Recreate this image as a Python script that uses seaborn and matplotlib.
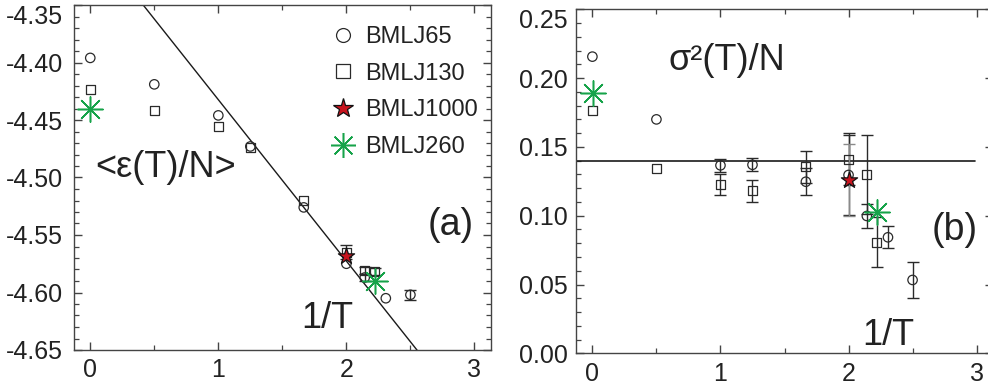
import numpy as np
import pandas as pd
import matplotlib
matplotlib.use("Agg")
import matplotlib.pyplot as plt
import seaborn as sns
from matplotlib.lines import Line2D
from matplotlib.ticker import MultipleLocator, FormatStrFormatter

sns.set_theme(style="ticks")
plt.rcParams["font.family"] = ["Liberation Sans", "DejaVu Sans"]
plt.rcParams["axes.unicode_minus"] = False

# ---------------- data: panel (a)  <e(T)/N> vs 1/T ----------------
a65_x = [0.0, 0.5, 1.0, 1.25, 1.667, 2.0, 2.143, 2.308, 2.5]
a65_y = [-4.396, -4.419, -4.446, -4.473, -4.526, -4.575, -4.587, -4.605, -4.602]
a65_err = [0, 0, 0, 0, 0, 0, 0.003, 0, 0.0045]

a130_x = [0.0, 0.5, 1.0, 1.25, 1.667, 2.0, 2.143, 2.222]
a130_y = [-4.4235, -4.442, -4.456, -4.474, -4.520, -4.565, -4.581, -4.582]
a130_err = [0, 0, 0, 0, 0, 0.006, 0.003, 0.003]

a1000_x = [2.0]
a1000_y = [-4.568]

a260_x = [0.0, 2.222]
a260_y = [-4.440, -4.590]

afit_x = [0.0, 3.0]
afit_y = [-4.292, -4.713]

# ---------------- data: panel (b)  sigma^2(T)/N vs 1/T ----------------
b65_x = [0.0, 0.5, 1.0, 1.25, 1.667, 2.0, 2.143, 2.308, 2.5]
b65_y = [0.2156, 0.170, 0.1366, 0.137, 0.1247, 0.1296, 0.0998, 0.0843, 0.0533]
b65_err = [0, 0, 0.0048, 0.0046, 0.0097, 0.029, 0.0085, 0.0081, 0.0132]

b130_x = [0.0, 0.5, 1.0, 1.25, 1.667, 2.0, 2.143, 2.222]
b130_y = [0.1768, 0.1344, 0.1225, 0.118, 0.1356, 0.141, 0.130, 0.0807]
b130_err = [0, 0, 0.0075, 0.0079, 0.0115, 0.019, 0.029, 0.018]

b1000_x = [2.0]
b1000_y = [0.126]
b1000_err = [0.026]

b260_x = [0.008, 2.222]
b260_y = [0.189, 0.103]

bline_x = [-0.2, 2.99]
bline_y = [0.140, 0.140]

legend_labels = ["BMLJ65", "BMLJ130", "BMLJ1000", "BMLJ260"]

# ---------------- styling ----------------
W, H = 988, 384
EDGE = "#2a2a2a"
GREEN = "#17a34a"
RED = "#c8141e"
AST = (8, 2, 0)

fig = plt.figure(figsize=(W / 100, H / 100), dpi=100)
fig.patch.set_facecolor("white")

ax_a = fig.add_axes([74 / W, 1 - 350 / H, (490.7 - 74) / W, (350 - 5) / H])
ax_b = fig.add_axes([576 / W, 1 - 353.3 / H, (993 - 576) / W, (353.3 - 9.3) / H])


def errbars(ax, x, y, e, color=EDGE):
    x = np.asarray(x); y = np.asarray(y); e = np.asarray(e)
    m = e > 0
    if m.any():
        ax.errorbar(x[m], y[m], yerr=e[m], fmt="none", ecolor=color,
                    elinewidth=1.0, capsize=4.5, capthick=1.0, zorder=2)


def open_pts(ax, x, y, marker, s):
    sns.scatterplot(x=x, y=y, ax=ax, marker=marker, s=s, color=EDGE,
                    facecolor="none", edgecolor=EDGE, linewidth=0.9, zorder=3)


def star_pts(ax, x, y, s):
    sns.scatterplot(x=x, y=y, ax=ax, marker="*", s=s, color=RED,
                    edgecolor="#111111", linewidth=0.9, zorder=4)


def ast_pts(ax, x, y, s):
    sns.scatterplot(x=x, y=y, ax=ax, marker=AST, s=s, color=GREEN,
                    edgecolor=GREEN, linewidth=1.1, zorder=5)


# ---- panel (a)
sns.lineplot(x=afit_x, y=afit_y, ax=ax_a, color="#1a1a1a", linewidth=1.0, zorder=1)
errbars(ax_a, a65_x, a65_y, a65_err)
errbars(ax_a, a130_x, a130_y, a130_err)
open_pts(ax_a, a65_x, a65_y, "o", 46)
open_pts(ax_a, a130_x, a130_y, "s", 42)
star_pts(ax_a, a1000_x, a1000_y, 150)
ast_pts(ax_a, a260_x, a260_y, 330)

ax_a.set_xlim(-0.127, 3.127)
ax_a.set_ylim(-4.65, -4.35)
ax_a.yaxis.set_major_locator(MultipleLocator(0.05))
ax_a.yaxis.set_minor_locator(MultipleLocator(0.01))
ax_a.yaxis.set_major_formatter(FormatStrFormatter("%.2f"))

# ---- panel (b)
sns.lineplot(x=bline_x, y=bline_y, ax=ax_b, color="#1a1a1a", linewidth=1.2, zorder=1)
errbars(ax_b, b65_x, b65_y, b65_err)
errbars(ax_b, b130_x, b130_y, b130_err)
errbars(ax_b, b1000_x, b1000_y, b1000_err, color="#8a8a8a")
open_pts(ax_b, b65_x, b65_y, "o", 46)
open_pts(ax_b, b130_x, b130_y, "s", 42)
star_pts(ax_b, b1000_x, b1000_y, 150)
ast_pts(ax_b, b260_x, b260_y, 330)

ax_b.set_xlim(-0.128, 3.128)
ax_b.set_ylim(0.0, 0.25)
ax_b.yaxis.set_major_locator(MultipleLocator(0.05))
ax_b.yaxis.set_minor_locator(MultipleLocator(0.01))
ax_b.yaxis.set_major_formatter(FormatStrFormatter("%.2f"))

for ax, ypad in ((ax_a, 8), (ax_b, 6)):
    ax.xaxis.set_major_locator(MultipleLocator(1))
    ax.xaxis.set_minor_locator(MultipleLocator(0.5))
    ax.set_xlabel("")
    ax.set_ylabel("")
    ax.set_facecolor("white")
    for sp in ax.spines.values():
        sp.set_visible(True)
        sp.set_color("#444444")
        sp.set_linewidth(1.0)
    ax.tick_params(which="both", direction="in", top=True, right=True,
                   colors="#444444", labelcolor="#222222")
    ax.tick_params(which="major", length=6, width=1.0, labelsize=18)
    ax.tick_params(which="minor", length=3.5, width=0.9)
    ax.tick_params(axis="y", pad=ypad)
    ax.tick_params(axis="x", pad=6)
    if ax.get_legend() is not None:
        ax.get_legend().remove()

fig.canvas.draw()
for ax in (ax_a, ax_b):
    ticks = ax.yaxis.get_major_ticks()
    locs = ax.get_yticks()
    ylo, yhi = ax.get_ylim()
    for t, v in zip(ticks, locs):
        if abs(v - yhi) < 1e-9:
            t.label1.set_va("top")

# ---- legend in panel (a)
handles = [
    Line2D([], [], linestyle="none", marker="o", markersize=10, markerfacecolor="none",
           markeredgecolor=EDGE, markeredgewidth=0.9),
    Line2D([], [], linestyle="none", marker="s", markersize=10, markerfacecolor="none",
           markeredgecolor=EDGE, markeredgewidth=0.9),
    Line2D([], [], linestyle="none", marker="*", markersize=15, markerfacecolor=RED,
           markeredgecolor="#111111", markeredgewidth=0.9),
    Line2D([], [], linestyle="none", marker=AST, markersize=18, markerfacecolor=GREEN,
           markeredgecolor=GREEN, markeredgewidth=1.1),
]
ax_a.legend(handles, legend_labels, loc="upper left",
            bbox_to_anchor=((331 - 74) / (490.7 - 74), 1 - (26 - 5) / 345),
            frameon=False, fontsize=17, handlelength=1.0, handletextpad=0.45,
            labelspacing=0.62, borderpad=0, borderaxespad=0)
for t in ax_a.get_legend().get_texts():
    t.set_color("#222222")

# ---- annotations
TXT = "#222222"
fig.text(165.5 / W, 1 - 177 / H, "<\u03b5(T)/N>", fontsize=26, color=TXT, ha="center", va="baseline")
fig.text(451 / W, 1 - 235 / H, "(a)", fontsize=27, color=TXT, ha="center", va="baseline")
fig.text(327 / W, 1 - 328 / H, "1/T", fontsize=26, color=TXT, ha="center", va="baseline")
fig.text(726.5 / W, 1 - 70 / H, "\u03c3\u00b2(T)/N", fontsize=26, color=TXT, ha="center", va="baseline")
fig.text(954.5 / W, 1 - 240.5 / H, "(b)", fontsize=27, color=TXT, ha="center", va="baseline")
fig.text(888 / W, 1 - 345 / H, "1/T", fontsize=26, color=TXT, ha="center", va="baseline")

fig.savefig("out.png", dpi=100, facecolor="white")
